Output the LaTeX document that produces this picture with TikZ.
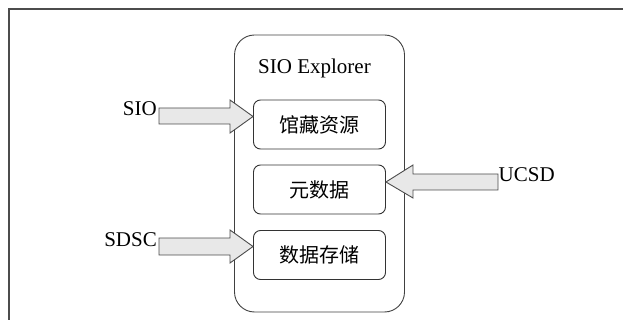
\documentclass[tikz,border=0pt]{standalone}
\usepackage{fontspec}
\setmainfont{Liberation Serif}
\newfontfamily\cjk{Noto Sans CJK SC}
\begin{document}
\begin{tikzpicture}[x=1pt,y=-1pt,
  frameline/.style={draw=black!70,line width=1.3pt},
  bigbox/.style={draw=black!75,line width=0.9pt,rounded corners=20pt,minimum width=170pt,minimum height=277pt,inner sep=0pt},
  subbox/.style={draw=black!80,line width=0.9pt,rounded corners=7pt,minimum width=132pt,minimum height=49pt,inner sep=0pt,font=\cjk\fontsize{20}{20}\selectfont},
  blockarrow/.style={draw=black!70,fill=black!9,line width=0.9pt,line join=miter},
  lbl/.style={font=\fontsize{21}{21}\selectfont,inner sep=0pt}]
\useasboundingbox (0,0) rectangle (623,320);
\draw[frameline] (9,330) -- (9,9) -- (630,9);
\node[bigbox] (sys) at (319.5,173.5) {};
\node[lbl,anchor=base] (title) at (314.5,74) {SIO Explorer};
\node[subbox] (b1) at (319.5,124.5) {馆藏资源};
\node[subbox] (b2) at (319.5,189.5) {元数据};
\node[subbox] (b3) at (319.5,255) {数据存储};
\node[lbl,anchor=base east] (sio) at (157,116) {SIO};
\node[lbl,anchor=base east] (sdsc) at (157,246.5) {SDSC};
\node[lbl,anchor=base west] (ucsd) at (498.5,181.5) {UCSD};
% SIO arrow
\draw[blockarrow] (sio.base east) ++(2,-8)
  -- ++(71,0) -- ++(0,-8) -- (b1.west |- 0,116.5) -- (230,133) -- (230,124) -- (159,124) -- cycle;
% SDSC arrow
\draw[blockarrow] (sdsc.base east) ++(2,-8.5) -- (230,238) -- (230,230) -- (b3.west |- 0,246.5) -- (230,263) -- (230,255) -- (159,255) -- cycle;
% UCSD arrow
\draw[blockarrow] (ucsd.base west) ++(-0.5,-7.5) -- (413,174) -- (413,165) -- (b2.east |- 0,182) -- (413,198) -- (413,190) -- (498,190) -- cycle;
\end{tikzpicture}
\end{document}
